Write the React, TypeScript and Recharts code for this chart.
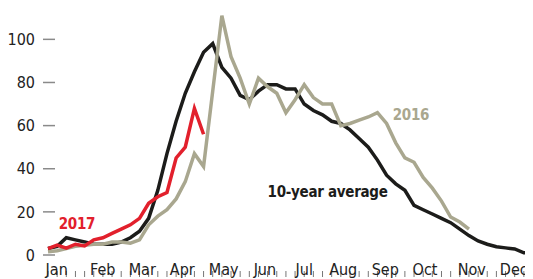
import { LineChart, Line, XAxis, YAxis, ReferenceDot } from 'recharts';

// week index 0 = first week of January
const avg10 = [
  3, 4, 8, 7, 6, 5, 5, 5, 6, 8, 11, 17, 30, 47, 62, 75, 85, 94, 98, 87,
  82, 74, 72, 76, 79, 79, 77, 77, 70, 67, 65, 62, 61, 58, 54, 50, 44, 37, 33, 30,
  23, 21, 19, 17, 15, 12, 9, 6.5, 5, 3.8, 3.3, 2.8, 1, 1,
];
const y2016 = [
  1.5, 2, 3, 4, 4.5, 5, 5, 6, 6, 5.5, 7, 14, 18, 21, 26, 34, 47, 41, 76, 111,
  92, 82, 70, 82, 78, 75, 66, 72, 79, 73, 70, 70, 60, 61, 62.5, 64, 66, 61, 52, 45,
  43, 36, 31, 25, 17.6, 15.3, 12,
];
const y2017 = [3, 4.6, 3.2, 5, 4.2, 7, 8, 10, 12, 14, 17, 24, 27, 29, 45, 50, 68, 56];

const months = ['Jan', 'Feb', 'Mar', 'Apr', 'May', 'Jun', 'Jul', 'Aug', 'Sep', 'Oct', 'Nov', 'Dec'];
const monthPos = [0.95, 5.98, 10.3, 14.67, 19.2, 23.7, 28, 32.26, 36.85, 41.2, 46.3, 50.9];
const yTicks = [0, 20, 40, 60, 80, 100];
const weekTicks = Array.from({ length: 53 }, (_, i) => i);

const data = avg10.map((v, i) => ({
  week: i,
  avg: v,
  y16: i < y2016.length ? y2016[i] : null,
  y17: i < y2017.length ? y2017[i] : null,
}));

const FONT = "'DejaVu Sans Condensed', 'Liberation Sans Narrow', Roboto, sans-serif";
const BLACK = '#1c1c1a';
const RED = '#e2202c';
const GREY = '#a9a78f';

const YTick = ({ x, y, payload }: any) => (
  <g>
    <line x1={x - 5} x2={x + 7} y1={y} y2={y} stroke="#8a8a8a" strokeWidth={1.5} />
    <text x={x - 13} y={y} dy="0.36em" textAnchor="end" fontSize={16} fill="#222" fontFamily={FONT}>
      {payload.value}
    </text>
  </g>
);

const WeekTick = ({ x, y }: any) => (
  <line x1={x} x2={x} y1={y - 7} y2={y - 1} stroke="#777" strokeWidth={1} />
);

const MonthTick = ({ x, y, payload }: any) => (
  <text x={x} y={y + 20} textAnchor="middle" fontSize={16} fill="#222" fontFamily={FONT}>
    {months[monthPos.indexOf(payload.value)]}
  </text>
);

const tag = (text: string, color: string) => ({ viewBox }: any) => (
  <text x={viewBox.x} y={viewBox.y} fontSize={15} fontWeight="bold" letterSpacing={-0.3} fill={color} fontFamily={FONT}>
    {text}
  </text>
);

export default function App() {
  return (
    <div style={{ margin: '-8px 0 0 -8px', background: '#fff', width: 533, height: 279 }}>
      <LineChart width={533} height={279} data={data} margin={{ top: 7, right: 0, bottom: 0, left: 0 }}>
        <XAxis
          xAxisId="week"
          dataKey="week"
          type="number"
          domain={[0, 53]}
          ticks={weekTicks}
          tick={<WeekTick />}
          tickSize={0}
          tickMargin={0}
          axisLine={false}
          tickLine={false}
          height={1}
          interval={0}
        />
        <XAxis
          xAxisId="month"
          dataKey="week"
          type="number"
          domain={[0, 53]}
          ticks={monthPos}
          tick={<MonthTick />}
          tickSize={0}
          tickMargin={0}
          axisLine={false}
          tickLine={false}
          height={23}
          interval={0}
        />
        <YAxis
          domain={[0, 115]}
          ticks={yTicks}
          tick={<YTick />}
          tickSize={0}
          tickMargin={0}
          axisLine={false}
          tickLine={false}
          width={48}
          interval={0}
        />
        <Line xAxisId="week" dataKey="avg" stroke={BLACK} strokeWidth={3.5} dot={false} isAnimationActive={false} strokeLinejoin="miter" />
        <Line xAxisId="week" dataKey="y16" stroke={GREY} strokeWidth={3.5} dot={false} isAnimationActive={false} strokeLinejoin="miter" />
        <Line xAxisId="week" dataKey="y17" stroke={RED} strokeWidth={3.5} dot={false} isAnimationActive={false} strokeLinejoin="miter" />
        <ReferenceDot xAxisId="week" x={1.17} y={12} r={0} label={tag('2017', RED)} />
        <ReferenceDot xAxisId="week" x={37.67} y={62.6} r={0} label={tag('2016', GREY)} />
        <ReferenceDot xAxisId="week" x={24} y={26.9} r={0} label={tag('10-year average', BLACK)} />
      </LineChart>
    </div>
  );
}
